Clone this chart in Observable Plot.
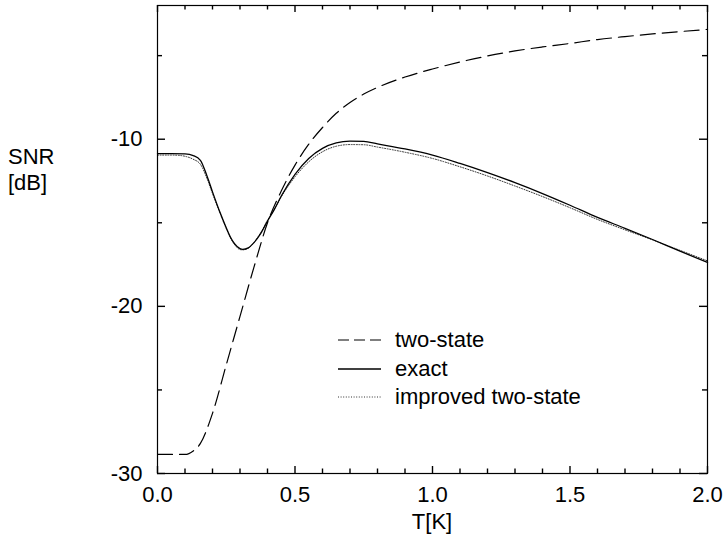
<!DOCTYPE html>
<html><head><meta charset="utf-8">
<script src="https://cdn.jsdelivr.net/npm/d3@7"></script>
<script src="https://cdn.jsdelivr.net/npm/@observablehq/plot@0.6"></script>
<style>
body{margin:0;background:#fff;}
#wrap{position:relative;width:725px;height:542px;font-family:"Liberation Sans",Arial,Helvetica,sans-serif;}
.lab{position:absolute;font-size:22px;line-height:22px;color:#000;white-space:nowrap;}
</style></head><body><div id="wrap"></div>
<script>
// ---- data ----
const T_two   = [0,0.05,0.10,0.13,0.156,0.20,0.25,0.30,0.35,0.40,0.45,0.50,0.55,0.60,0.65,0.70,0.75,0.80,0.90,1.0,1.1,1.2,1.3,1.4,1.5,1.6,1.7,1.8,1.9,2.0];
const SNR_two = [-28.86,-28.86,-28.86,-28.65,-28.2,-26.4,-23.5,-20.6,-17.7,-15.0,-13.1,-11.55,-10.3,-9.3,-8.45,-7.8,-7.3,-6.9,-6.28,-5.8,-5.38,-5.02,-4.72,-4.48,-4.27,-4.04,-3.86,-3.70,-3.56,-3.43];

const T_exact   = [0,0.05,0.10,0.13,0.156,0.18,0.20,0.229,0.25,0.265,0.28,0.30,0.31,0.33,0.35,0.375,0.40,0.425,0.45,0.50,0.55,0.60,0.65,0.70,0.75,0.80,0.90,1.0,1.1,1.2,1.3,1.4,1.5,1.6,1.7,1.8,1.9,2.0];
const SNR_exact = [-10.86,-10.86,-10.88,-10.98,-11.26,-12.2,-13.15,-14.45,-15.3,-15.85,-16.25,-16.55,-16.59,-16.5,-16.2,-15.65,-14.9,-14.2,-13.4,-12.1,-11.15,-10.55,-10.22,-10.12,-10.13,-10.28,-10.58,-10.95,-11.45,-12.0,-12.6,-13.25,-13.95,-14.68,-15.33,-16.0,-16.7,-17.37];

const T_impr   = [0,0.05,0.08,0.10,0.13,0.156,0.18,0.20,0.229,0.25,0.265,0.28,0.30,0.31,0.33,0.35,0.375,0.40,0.425,0.45,0.50,0.55,0.60,0.65,0.70,0.75,0.80,0.90,1.0,1.1,1.2,1.3,1.4,1.5,1.6,1.7,1.8,1.9,2.0];
const SNR_impr = [-10.95,-10.95,-10.97,-11.02,-11.2,-11.5,-12.35,-13.25,-14.5,-15.35,-15.9,-16.3,-16.6,-16.62,-16.52,-16.2,-15.6,-14.85,-14.2,-13.45,-12.25,-11.35,-10.75,-10.42,-10.32,-10.33,-10.47,-10.78,-11.15,-11.65,-12.2,-12.8,-13.43,-14.1,-14.8,-15.42,-16.02,-16.65,-17.28];

const xMajor = [0,0.5,1.0,1.5,2.0];
const xMinor = [0.1,0.2,0.3,0.4,0.6,0.7,0.8,0.9,1.1,1.2,1.3,1.4,1.6,1.7,1.8,1.9];
const xTickLabels = ["0.0","0.5","1.0","1.5","2.0"];
const yMajor = [-30,-20,-10];
const yMinor = [-25,-15,-5];
const yTickLabels = ["-30","-20","-10"];
const seriesNames = ["two-state","exact","improved two-state"];
const xTitle = "T[K]";
const yTitle = ["SNR","[dB]"];

// ---- build ----
const two = T_two.map((t,i)=>({t, v:SNR_two[i]}));
const exact = T_exact.map((t,i)=>({t, v:SNR_exact[i]}));
const impr = T_impr.map((t,i)=>({t, v:SNR_impr[i]}));

const W=725, H=542, mL=157, mR=18, mT=5, mB=69;
const innerW = W - mL - mR, innerH = H - mT - mB;
const font = "Liberation Sans, Arial, Helvetica, sans-serif";
const xMaj = 7, xMin = 4.5, yMaj = 8, yMin = 5;
const tk = {stroke:"#000", strokeWidth:1.4};

const chart = Plot.plot({
  width: W, height: H,
  marginLeft: mL, marginRight: mR, marginTop: mT, marginBottom: mB,
  style: {fontFamily: font, fontSize: "22px", background: "#fff", color: "#000", overflow: "visible"},
  x: {domain: [0, 2]},
  y: {domain: [-30, -2]},
  marks: [
    // inward ticks on all four sides
    Plot.tickX(xMajor, {x: d=>d, insetTop: innerH - xMaj, ...tk}),
    Plot.tickX(xMinor, {x: d=>d, insetTop: innerH - xMin, ...tk}),
    Plot.tickX(xMajor, {x: d=>d, insetBottom: innerH - xMaj, ...tk}),
    Plot.tickX(xMinor, {x: d=>d, insetBottom: innerH - xMin, ...tk}),
    Plot.tickY(yMajor, {y: d=>d, insetRight: innerW - yMaj, ...tk}),
    Plot.tickY(yMinor, {y: d=>d, insetRight: innerW - yMin, ...tk}),
    Plot.tickY(yMajor, {y: d=>d, insetLeft: innerW - yMaj, ...tk}),
    Plot.tickY(yMinor, {y: d=>d, insetLeft: innerW - yMin, ...tk}),
    // labels
    Plot.axisX(xMajor, {anchor:"bottom", tickSize:0, tickPadding:13, label:null, fontSize:22,
      tickFormat:(d)=>xTickLabels[xMajor.indexOf(d)]}),
    Plot.axisY(yMajor, {anchor:"left", tickSize:0, tickPadding:15, label:null, fontSize:22,
      tickFormat:(d)=>yTickLabels[yMajor.indexOf(d)]}),
    // curves
    Plot.line(two, {x:"t", y:"v", stroke:"#000", strokeWidth:1.2, strokeDasharray:"15,7", curve:"monotone-x"}),
    Plot.line(impr, {x:"t", y:"v", stroke:"#333", strokeWidth:1, strokeDasharray:"1,1.6", curve:"monotone-x"}),
    Plot.line(exact, {x:"t", y:"v", stroke:"#000", strokeWidth:1.3, curve:"monotone-x"}),
    Plot.frame({stroke:"#000", strokeWidth:1.2})
  ]
});

const wrap = document.getElementById("wrap");
wrap.appendChild(chart);

function addLabel(text, left, top, center) {
  const d = document.createElement("div");
  d.className = "lab";
  d.textContent = text;
  d.style.left = left + "px";
  d.style.top = top + "px";
  if (center) d.style.transform = "translateX(-50%)";
  wrap.appendChild(d);
}
// axis titles
addLabel(xTitle, (mL + W - mR)/2, 511, true);
addLabel(yTitle[0], 8, 146);
addLabel(yTitle[1], 8, 172);

// legend
const legendStyles = [
  {dash:"11,5", w:1.2, c:"#000"},
  {dash:null, w:1.3, c:"#000"},
  {dash:"1,1.6", w:1, c:"#333"}
];
const legCenter = [340, 369, 397];
const svgNS = "http://www.w3.org/2000/svg";
const ls = document.createElementNS(svgNS, "svg");
ls.setAttribute("width", W); ls.setAttribute("height", H);
ls.style.position = "absolute"; ls.style.left = "0"; ls.style.top = "0"; ls.style.pointerEvents = "none";
seriesNames.forEach((name, i) => {
  const l = document.createElementNS(svgNS, "line");
  l.setAttribute("x1", 338); l.setAttribute("x2", 381);
  l.setAttribute("y1", legCenter[i]); l.setAttribute("y2", legCenter[i]);
  l.setAttribute("stroke", legendStyles[i].c);
  l.setAttribute("stroke-width", legendStyles[i].w);
  if (legendStyles[i].dash) l.setAttribute("stroke-dasharray", legendStyles[i].dash);
  ls.appendChild(l);
  addLabel(name, 395, legCenter[i] - 11);
});
wrap.appendChild(ls);
</script>
</body></html>
